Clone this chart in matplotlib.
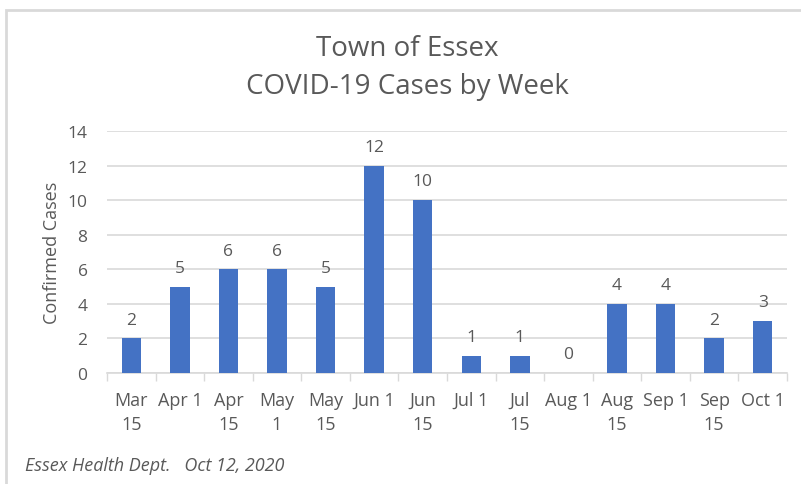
import numpy as np
import matplotlib.pyplot as plt
from matplotlib.patches import Rectangle

weeks = ["Mar\n15", "Apr 1", "Apr\n15", "May\n1", "May\n15", "Jun 1", "Jun\n15",
         "Jul 1", "Jul\n15", "Aug 1", "Aug\n15", "Sep 1", "Sep\n15", "Oct 1"]
cases = [2, 5, 6, 6, 5, 12, 10, 1, 1, 0, 4, 4, 2, 3]
yticks = [0, 2, 4, 6, 8, 10, 12, 14]

plt.rcParams['font.family'] = ['Open Sans', 'DejaVu Sans']
txt = '#595959'
grid = '#d9d9d9'

fig = plt.figure(figsize=(8.01, 4.85), dpi=100)
ax = fig.add_axes([107/801, 1 - 374/485, 680/801, 242/485])

x = np.arange(len(weeks))
ax.bar(x, cases, width=0.4, color='#4472c4', zorder=3)
for xi, v in zip(x, cases):
    ax.text(xi, v + 0.85, str(v), ha='center', va='baseline', fontsize=12.5, color=txt)

ax.set_xlim(-0.5, len(weeks) - 0.5)
ax.set_ylim(0, 14)
ax.set_yticks(yticks)
ax.set_yticklabels([str(t) for t in yticks], fontsize=12.5, color=txt)
ax.set_xticks(x)
ax.set_xticklabels(weeks, fontsize=13, color=txt, linespacing=1.45, va='top')
ax.tick_params(axis='x', length=0, pad=13)
ax.tick_params(axis='y', length=0, pad=14)
ax.set_xticks(np.arange(-0.5, len(weeks)), minor=True)
ax.tick_params(axis='x', which='minor', length=6, color=grid, width=1)
ax.grid(axis='y', color=grid, linewidth=1.2, zorder=0)
for s in ['top', 'right', 'left']:
    ax.spines[s].set_visible(False)
ax.spines['bottom'].set_color(grid)
ax.spines['bottom'].set_linewidth(1.2)

ax.set_ylabel("Confirmed Cases", fontsize=13, color=txt, labelpad=5)

fig.text(407/801, 1 - 49/485, "Town of Essex", ha='center', va='center', fontsize=20, color=txt)
fig.text(407/801, 1 - 87/485, "COVID-19 Cases by Week", ha='center', va='center', fontsize=20, color=txt)
fig.text(25/801, 1 - 466/485, "Essex Health Dept.   Oct 12, 2020", ha='left', va='center',
         fontsize=13, style='italic', color=txt)

# chart border (runs off the right and bottom edges)
fig.patches.append(Rectangle((6/801, -0.05), 1.0, 1 - 11/485 + 0.05, transform=fig.transFigure,
                             fill=False, edgecolor='#d9d9d9', linewidth=2))

fig.savefig("out.png", dpi=100)
